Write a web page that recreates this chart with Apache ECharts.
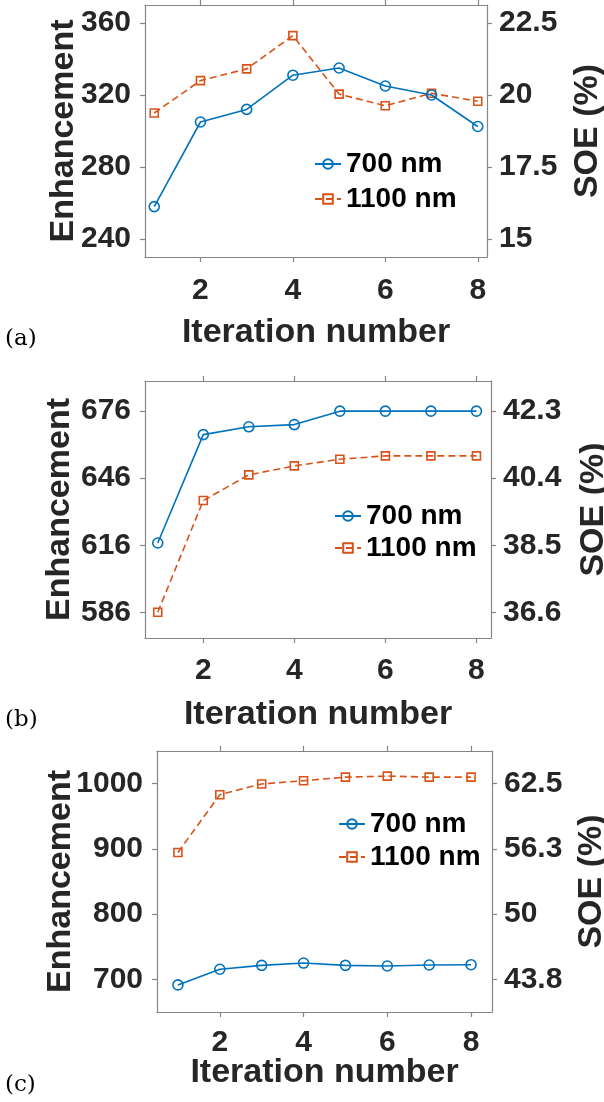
<!DOCTYPE html>
<html>
<head>
<meta charset="utf-8">
<script src="https://cdn.jsdelivr.net/npm/echarts@6/dist/echarts.min.js"></script>
<style>
html,body{margin:0;padding:0;background:#fff;}
#chart{width:604px;height:1102px;}
</style>
</head>
<body>
<div id="chart"></div>
<script>
// ---- data ----
var iterations = [1, 2, 3, 4, 5, 6, 7, 8];
var xTicks = [2, 4, 6, 8];
var seriesNames = ['700 nm', '1100 nm'];

// panel (a)
var enh700A = [258, 305, 312, 331, 335, 325, 320, 302.5];
var enh1100A = [310, 328, 334.5, 353, 320.5, 314, 321, 316.5];
var leftTicksA = [240, 280, 320, 360];
var rightLabelsA = ['15', '17.5', '20', '22.5'];

// panel (b)
var enh700B = [617, 665.5, 669, 670, 676, 676, 676, 676];
var enh1100B = [586, 636, 647.5, 651.5, 654.5, 656, 656, 656];
var leftTicksB = [586, 616, 646, 676];
var rightLabelsB = ['36.6', '38.5', '40.4', '42.3'];

// panel (c)
var enh700C = [691.5, 715.5, 721.5, 725, 721.5, 720.5, 722, 722.5];
var enh1100C = [894.5, 983, 999.5, 1004.5, 1010, 1011.5, 1010, 1010];
var leftTicksC = [700, 800, 900, 1000];
var rightLabelsC = ['43.8', '50', '56.3', '62.5'];

var panelLabels = ['(a)', '(b)', '(c)'];

// ---- styling / layout ----
var FONT = "'Liberation Sans', Arial, Helvetica, sans-serif";
var AXIS_COLOR = '#858585';
var TEXT_COLOR = '#262626';
var BLUE = '#0072BD';
var ORANGE = '#D95319';
var TICK_FS = 30, TITLE_FS = 34, LEGEND_FS = 28;

var panels = [
  {grid: {left: 145, top: 5, width: 342, height: 252}, xMin: 0.8, xMax: 8.2, yMin: 230, yMax: 370,
   ticks: leftTicksA, rLabels: rightLabelsA, d700: enh700A, d1100: enh1100A,
   xLabelMargin: 19, xNameGap: 59, yNameGap: 64, rNameGap: 84,
   legend: {left: 314, top: 150, itemGap: 7}, label: {x: 5, y: 342}},
  {grid: {left: 145, top: 381, width: 346, height: 257}, xMin: 0.72, xMax: 8.32, yMin: 574.5, yMax: 689.5,
   ticks: leftTicksB, rLabels: rightLabelsB, d700: enh700B, d1100: enh1100B,
   xLabelMargin: 18, xNameGap: 60, yNameGap: 68, rNameGap: 86,
   legend: {left: 334, top: 502, itemGap: 4}, label: {x: 5, y: 723}},
  {grid: {left: 157, top: 751, width: 335, height: 261}, xMin: 0.5, xMax: 8.5, yMin: 650, yMax: 1050,
   ticks: leftTicksC, rLabels: rightLabelsC, d700: enh700C, d1100: enh1100C,
   xLabelMargin: 16, xNameGap: 44, yNameGap: 79, rNameGap: 83,
   legend: {left: 338, top: 810, itemGap: 5}, label: {x: 5, y: 1088}}
];

function pairs(xs, ys) { return xs.map(function (x, i) { return [x, ys[i]]; }); }

var option = {
  animation: false,
  backgroundColor: '#ffffff',
  grid: [], xAxis: [], yAxis: [], series: [], legend: [], graphic: []
};

panels.forEach(function (p, k) {
  var g = Object.assign({containLabel: false, outerBoundsMode: 'none'}, p.grid);
  option.grid.push(g);
  var lineStyle = {color: AXIS_COLOR, width: 1.2};
  var tickStyle = {color: AXIS_COLOR, width: 1.2};
  // bottom x axis
  option.xAxis.push({
    type: 'value', gridIndex: k, position: 'bottom', min: p.xMin, max: p.xMax,
    name: 'Iteration number', nameLocation: 'middle', nameGap: p.xNameGap, nameMoveOverlap: false,
    nameTextStyle: {fontFamily: FONT, fontWeight: 'bold', fontSize: TITLE_FS, color: TEXT_COLOR},
    axisLine: {show: true, onZero: false, lineStyle: lineStyle},
    axisTick: {show: true, inside: false, length: 5, lineStyle: tickStyle, customValues: xTicks},
    axisLabel: {show: true, margin: p.xLabelMargin, fontFamily: FONT, fontWeight: 'bold', fontSize: TICK_FS,
                color: TEXT_COLOR, customValues: xTicks, formatter: function (v) { return String(v); }},
    splitLine: {show: false}
  });
  // top x axis (box)
  option.xAxis.push({
    type: 'value', gridIndex: k, position: 'top', min: p.xMin, max: p.xMax,
    axisLine: {show: true, onZero: false, lineStyle: lineStyle},
    axisTick: {show: true, inside: false, length: 5, lineStyle: tickStyle, customValues: xTicks},
    axisLabel: {show: false, customValues: xTicks},
    splitLine: {show: false}
  });
  // left y axis
  option.yAxis.push({
    type: 'value', gridIndex: k, position: 'left', min: p.yMin, max: p.yMax,
    name: 'Enhancement', nameLocation: 'middle', nameGap: p.yNameGap, nameRotate: 90, nameMoveOverlap: false,
    nameTextStyle: {fontFamily: FONT, fontWeight: 'bold', fontSize: TITLE_FS, color: TEXT_COLOR},
    axisLine: {show: true, onZero: false, lineStyle: lineStyle},
    axisTick: {show: true, inside: false, length: 5, lineStyle: tickStyle, customValues: p.ticks},
    axisLabel: {show: true, margin: 14, fontFamily: FONT, fontWeight: 'bold', fontSize: TICK_FS,
                color: TEXT_COLOR, customValues: p.ticks, formatter: function (v) { return String(v); }},
    splitLine: {show: false}
  });
  // right y axis (SOE)
  (function (ticks, labels) {
    option.yAxis.push({
      type: 'value', gridIndex: k, position: 'right', min: p.yMin, max: p.yMax,
      name: 'SOE (%)', nameLocation: 'middle', nameGap: p.rNameGap, nameRotate: 90, nameMoveOverlap: false,
      nameTextStyle: {fontFamily: FONT, fontWeight: 'bold', fontSize: TITLE_FS, color: TEXT_COLOR},
      axisLine: {show: true, onZero: false, lineStyle: lineStyle},
      axisTick: {show: true, inside: false, length: 5, lineStyle: tickStyle, customValues: ticks},
      axisLabel: {show: true, margin: 12, fontFamily: FONT, fontWeight: 'bold', fontSize: TICK_FS,
                  color: TEXT_COLOR, customValues: ticks,
                  formatter: function (v) {
                    var i = ticks.indexOf(v);
                    return i >= 0 ? labels[i] : '';
                  }},
      splitLine: {show: false}
    });
  })(p.ticks, p.rLabels);

  option.series.push({
    name: seriesNames[0], type: 'line', xAxisIndex: 2 * k, yAxisIndex: 2 * k,
    data: pairs(iterations, p.d700), symbol: 'circle', symbolSize: 10,
    itemStyle: {color: 'rgba(255,255,255,0)', borderColor: BLUE, borderWidth: 1.6},
    lineStyle: {color: BLUE, width: 1.6, type: 'solid'}, z: 3
  });
  option.series.push({
    name: seriesNames[1], type: 'line', xAxisIndex: 2 * k, yAxisIndex: 2 * k + 1,
    data: pairs(iterations, p.d1100), symbol: 'rect', symbolSize: 8,
    itemStyle: {color: 'rgba(255,255,255,0)', borderColor: ORANGE, borderWidth: 1.6},
    lineStyle: {color: ORANGE, width: 1.6, type: [7, 4]}, z: 2
  });

  option.legend.push({
    data: seriesNames, orient: 'vertical', left: p.legend.left, top: p.legend.top,
    itemGap: p.legend.itemGap, itemWidth: 26, itemHeight: 12, padding: 0,
    selectedMode: false,
    textStyle: {fontFamily: FONT, fontWeight: 'bold', fontSize: LEGEND_FS, color: '#000000'}
  });

  option.graphic.push({
    type: 'text', left: p.label.x, top: p.label.y - 14,
    style: {text: panelLabels[k], font: "23px 'DejaVu Serif', 'Liberation Serif', serif", fill: '#000000'}
  });
});

var chart = echarts.init(document.getElementById('chart'), null, {renderer: 'canvas'});
chart.setOption(option);
</script>
</body>
</html>
